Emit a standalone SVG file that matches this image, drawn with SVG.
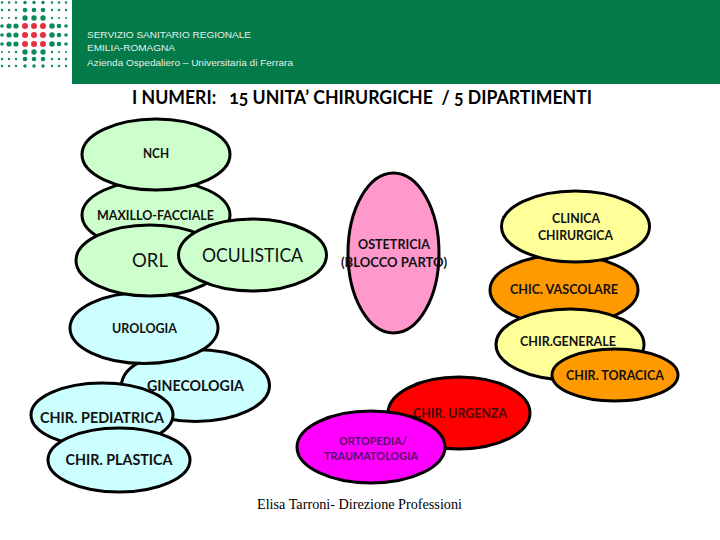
<svg xmlns="http://www.w3.org/2000/svg" width="720" height="540" viewBox="0 0 720 540">
<style>
.n{stroke:#000;stroke-width:3}
.g{fill:#ccffcc}.b{fill:#ccffff}.y{fill:#ffff99}.o{fill:#ff9900}.p{fill:#ff99cc}.r{fill:#ff0000}.m{fill:#ff00ff}
text{white-space:pre}
.l{font-family:"Lato","Open Sans",sans-serif;font-weight:700;font-size:13px;fill:#111}
.big{font-family:"Lato","Open Sans",sans-serif;font-weight:400;font-size:19px;fill:#111}
.h{font-family:"Liberation Sans",Arial,sans-serif;font-size:9.5px;fill:#e6efe9}
.d{fill:#0b8a5a}.e{fill:#e2323f}
</style>
<rect x="0" y="0" width="720" height="540" fill="#ffffff"/>
<g id="logo">
<g class="d">
<circle cx="2" cy="2.5" r="1.2"/><circle cx="9" cy="2.5" r="1.2"/><circle cx="16" cy="2.5" r="1.2"/><circle cx="25" cy="2.5" r="1.7"/><circle cx="34" cy="2.5" r="1.7"/><circle cx="43" cy="2.5" r="1.7"/><circle cx="52" cy="2.5" r="1.2"/><circle cx="59" cy="2.5" r="1.2"/><circle cx="66" cy="2.5" r="1.2"/>
<circle cx="2" cy="10" r="1.2"/><circle cx="9" cy="10" r="1.2"/><circle cx="16" cy="10" r="1.2"/><circle cx="25" cy="10" r="2.3"/><circle cx="34" cy="10" r="2.3"/><circle cx="43" cy="10" r="2.3"/><circle cx="52" cy="10" r="1.2"/><circle cx="59" cy="10" r="1.2"/><circle cx="66" cy="10" r="1.2"/>
<circle cx="2" cy="18" r="1"/><circle cx="9" cy="18" r="1"/><circle cx="16" cy="18" r="1.2"/><circle cx="25" cy="18" r="2.7"/><circle cx="34" cy="18" r="2.7"/><circle cx="43" cy="18" r="2.7"/><circle cx="52" cy="18" r="1.2"/><circle cx="59" cy="18" r="1"/><circle cx="66" cy="18" r="1"/>
<circle cx="2" cy="26" r="1.8"/><circle cx="9" cy="26" r="2.6"/><circle cx="16" cy="26" r="2.6"/><circle cx="52" cy="26" r="2.8"/><circle cx="59" cy="26" r="2.3"/><circle cx="66" cy="26" r="1.8"/>
<circle cx="2" cy="35" r="1.8"/><circle cx="9" cy="35" r="2.6"/><circle cx="16" cy="35" r="2.6"/><circle cx="52" cy="35" r="2.8"/><circle cx="59" cy="35" r="2.3"/><circle cx="66" cy="35" r="1.8"/>
<circle cx="2" cy="44" r="1.8"/><circle cx="9" cy="44" r="2.6"/><circle cx="16" cy="44" r="2.6"/><circle cx="52" cy="44" r="2.8"/><circle cx="59" cy="44" r="2.3"/><circle cx="66" cy="44" r="1.8"/>
<circle cx="2" cy="52" r="1"/><circle cx="9" cy="52" r="1"/><circle cx="16" cy="52" r="1.2"/><circle cx="25" cy="52" r="2.7"/><circle cx="34" cy="52" r="2.7"/><circle cx="43" cy="52" r="2.7"/><circle cx="52" cy="52" r="1.2"/><circle cx="59" cy="52" r="1"/><circle cx="66" cy="52" r="1"/>
<circle cx="2" cy="59" r="1.2"/><circle cx="9" cy="59" r="1.2"/><circle cx="16" cy="59" r="1.2"/><circle cx="25" cy="59" r="2.3"/><circle cx="34" cy="59" r="2.3"/><circle cx="43" cy="59" r="2.3"/><circle cx="52" cy="59" r="1.2"/><circle cx="59" cy="59" r="1.2"/><circle cx="66" cy="59" r="1.2"/>
<circle cx="2" cy="66" r="1.2"/><circle cx="9" cy="66" r="1.2"/><circle cx="16" cy="66" r="1.2"/><circle cx="25" cy="66" r="1.7"/><circle cx="34" cy="66" r="1.7"/><circle cx="43" cy="66" r="1.7"/><circle cx="52" cy="66" r="1.2"/><circle cx="59" cy="66" r="1.2"/><circle cx="66" cy="66" r="1.2"/>
</g>
<g class="e">
<circle cx="25" cy="26" r="3"/><circle cx="34" cy="26" r="3"/><circle cx="43" cy="26" r="3"/>
<circle cx="25" cy="35" r="3"/><circle cx="34" cy="35" r="3"/><circle cx="43" cy="35" r="3"/>
<circle cx="25" cy="44" r="3"/><circle cx="34" cy="44" r="3"/><circle cx="43" cy="44" r="3"/>
</g>
</g>
<g id="header">
<rect x="72" y="0" width="648" height="84" fill="#037a4a"/>
<text class="h" x="87" y="37.5" textLength="164" lengthAdjust="spacingAndGlyphs">SERVIZIO SANITARIO REGIONALE</text>
<text class="h" x="87" y="51" textLength="88" lengthAdjust="spacingAndGlyphs">EMILIA-ROMAGNA</text>
<text class="h" x="87" y="66" textLength="206" lengthAdjust="spacingAndGlyphs">Azienda Ospedaliero – Universitaria di Ferrara</text>
</g>
<text id="title" x="132" y="104" font-family="Lato,'Open Sans',sans-serif" font-weight="700" font-size="18" fill="#000" style="font-variant-numeric:oldstyle-nums" textLength="460" lengthAdjust="spacingAndGlyphs">I NUMERI:   15 UNITA’ CHIRURGICHE  / 5 DIPARTIMENTI</text>

<g id="maxillo"><ellipse class="n g" cx="156" cy="215" rx="74" ry="35"/><text class="l" x="97" y="220" textLength="117" lengthAdjust="spacingAndGlyphs">MAXILLO-FACCIALE</text></g>
<g id="nch"><ellipse class="n g" cx="156" cy="154.500" rx="74" ry="35.500"/><text class="l" x="143" y="158" textLength="26" lengthAdjust="spacingAndGlyphs">NCH</text></g>
<g id="ginecologia"><ellipse class="n b" cx="195.500" cy="385.500" rx="74" ry="36"/><text class="l" style="font-size:15px" x="147" y="391" textLength="97" lengthAdjust="spacingAndGlyphs">GINECOLOGIA</text></g>
<g id="urologia"><ellipse class="n b" cx="144" cy="328" rx="74" ry="35.500"/><text class="l" x="112" y="333" textLength="65" lengthAdjust="spacingAndGlyphs">UROLOGIA</text></g>
<g id="orl"><ellipse class="n g" cx="150" cy="260.500" rx="74" ry="35.500"/><text class="big" x="132" y="267" textLength="36" lengthAdjust="spacingAndGlyphs">ORL</text></g>
<g id="oculistica"><ellipse class="n g" cx="252.500" cy="255" rx="74" ry="36"/><text class="big" x="202" y="262" textLength="101" lengthAdjust="spacingAndGlyphs">OCULISTICA</text></g>
<g id="pediatrica"><ellipse class="n b" cx="102" cy="415" rx="71" ry="32"/><text class="l" style="font-size:15px" x="40" y="422.500" textLength="124" lengthAdjust="spacingAndGlyphs">CHIR. PEDIATRICA</text></g>
<g id="plastica"><ellipse class="n b" cx="119" cy="460" rx="71" ry="32"/><text class="l" style="font-size:15px" x="65.500" y="465" textLength="107" lengthAdjust="spacingAndGlyphs">CHIR. PLASTICA</text></g>
<g id="ostetricia"><ellipse class="n p" cx="393.500" cy="253" rx="45.500" ry="80"/><text class="l" x="358" y="249" textLength="72" lengthAdjust="spacingAndGlyphs">OSTETRICIA</text><text class="l" x="341" y="267" textLength="106" lengthAdjust="spacingAndGlyphs">(BLOCCO PARTO)</text></g>
<g id="vascolare"><ellipse class="n o" cx="564" cy="290" rx="74" ry="35"/><text class="l" x="510" y="294" textLength="108" lengthAdjust="spacingAndGlyphs">CHIC. VASCOLARE</text></g>
<g id="clinica"><ellipse class="n y" cx="575.500" cy="226.500" rx="74" ry="35.500"/><text class="l" x="552" y="223" textLength="48" lengthAdjust="spacingAndGlyphs">CLINICA</text><text class="l" x="538" y="240" textLength="75" lengthAdjust="spacingAndGlyphs">CHIRURGICA</text></g>
<g id="generale"><ellipse class="n y" cx="570" cy="344.500" rx="74" ry="35.500"/><text class="l" x="520" y="346" textLength="96" lengthAdjust="spacingAndGlyphs">CHIR.GENERALE</text></g>
<g id="toracica"><ellipse class="n o" cx="615" cy="375" rx="63" ry="26"/><text class="l" x="566" y="380" textLength="98" lengthAdjust="spacingAndGlyphs">CHIR. TORACICA</text></g>
<g id="urgenza"><ellipse class="n r" cx="459" cy="413" rx="71" ry="36"/><text class="l" style="fill:#4a0a0a" x="413" y="418" textLength="94" lengthAdjust="spacingAndGlyphs">CHIR. URGENZA</text></g>
<g id="ortopedia"><ellipse class="n m" cx="371" cy="447" rx="74" ry="36"/><text class="l" style="font-size:11px;fill:#5a0a6a" x="339" y="445" textLength="68" lengthAdjust="spacingAndGlyphs">ORTOPEDIA/</text><text class="l" style="font-size:11px;fill:#5a0a6a" x="324" y="460" textLength="94" lengthAdjust="spacingAndGlyphs">TRAUMATOLOGIA</text></g>
<text id="footer" x="257" y="509" font-family="'Liberation Serif','Times New Roman',serif" font-size="14" fill="#000" textLength="205" lengthAdjust="spacingAndGlyphs">Elisa Tarroni- Direzione Professioni</text>
</svg>
